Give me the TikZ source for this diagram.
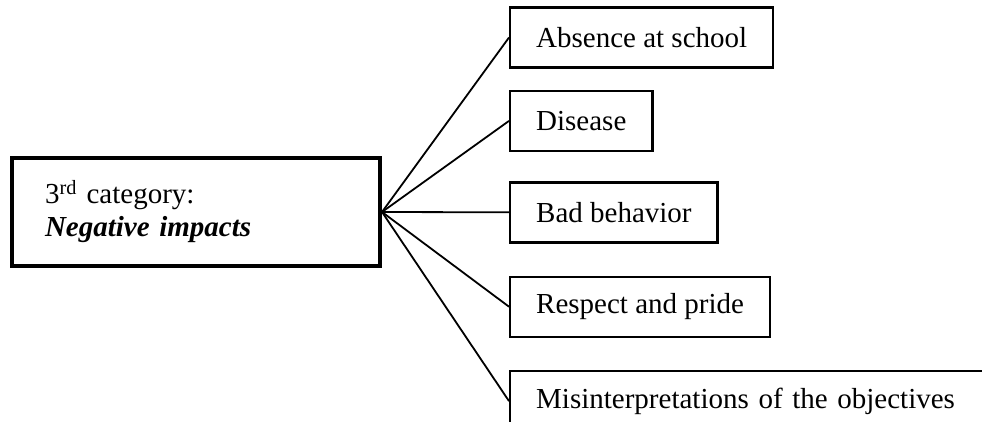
\documentclass[tikz,border=0pt]{standalone}
\usepackage{fontspec}
\setmainfont{Liberation Serif}
\usetikzlibrary{positioning}

\begin{document}
\begin{tikzpicture}[x=1pt, y=-1pt,
			impact/.style={draw, rectangle, line width=2.4pt, minimum height=60pt, inner xsep=26pt, font=\fontsize{29}{33}\selectfont, anchor=west},
			category/.style={draw, rectangle, line width=4pt, minimum height=108pt, text width=302pt, inner xsep=33pt, align=left, font=\fontsize{29}{33}\selectfont},
			link/.style={line width=1.8pt}
			]
			\useasboundingbox (0,0) rectangle (982,421);
			\clip (0,0) rectangle (982,421);
			% Category
			\node[category] (cat) at (196,212) {3\textsuperscript{rd} category:\\ \textbf{\textit{Negative impacts}}};
			
			% Impacts
			\node[impact] (absence) at (509,37.5) {Absence at school};
			\node[impact, below=21pt of absence.south west, anchor=north west] (disease) {Disease};
			\node[impact, below=29pt of disease.south west, anchor=north west] (behavior) {Bad behavior};
			\node[impact, below=32pt of behavior.south west, anchor=north west] (respect) {Respect and pride};
			\node[impact, below=32pt of respect.south west, anchor=north west, text width=470pt, align=left] (objectives) {Misinterpretations of the objectives};
			
			% Links
			\draw[link] (cat.east) -- (absence.west);
			\draw[link] (cat.east) -- (disease.west);
			\draw[link] (cat.east) -- (behavior.west);
			\draw[link] (cat.east) -- (respect.west);
			\draw[link] (cat.east) -- (objectives.west);
		\end{tikzpicture}
\end{document}
